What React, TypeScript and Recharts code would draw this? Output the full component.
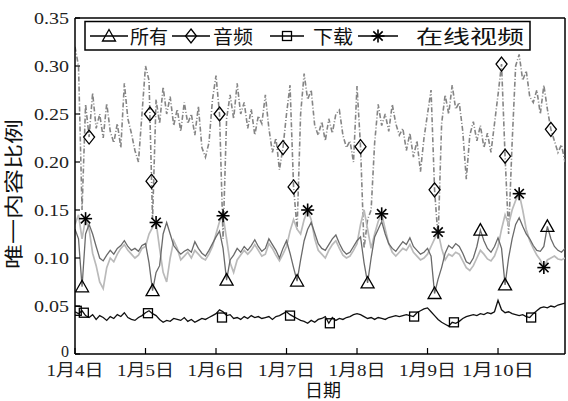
import React from "react";
import { ComposedChart, Line, Scatter, XAxis, YAxis, ReferenceLine } from "recharts";

const dayLabels = ["1月4日", "1月5日", "1月6日", "1月7日", "1月8日", "1月9日", "1月10日"];
const samplesPerDay = 20;
const yTicks = [0, 0.05, 0.1, 0.15, 0.2, 0.25, 0.3, 0.35];

// 所有
const allShare = [
  0.130, 0.120, 0.070, 0.125, 0.135, 0.125, 0.112, 0.100, 0.097, 0.103,
  0.108, 0.104, 0.110, 0.113, 0.118, 0.112, 0.108, 0.110, 0.107, 0.113,
  0.115, 0.095, 0.066, 0.085, 0.092, 0.125, 0.137, 0.125, 0.113, 0.108,
  0.104, 0.107, 0.109, 0.106, 0.117, 0.110, 0.105, 0.102, 0.108, 0.115,
  0.122, 0.128, 0.110, 0.077, 0.098, 0.103, 0.110, 0.106, 0.112, 0.108,
  0.113, 0.119, 0.112, 0.107, 0.110, 0.120, 0.114, 0.108, 0.100, 0.110,
  0.118, 0.105, 0.090, 0.076, 0.098, 0.118, 0.130, 0.137, 0.126, 0.115,
  0.110, 0.108, 0.114, 0.120, 0.124, 0.115, 0.108, 0.104, 0.106, 0.112,
  0.118, 0.122, 0.095, 0.074, 0.100, 0.122, 0.130, 0.138, 0.125, 0.115,
  0.110, 0.107, 0.112, 0.117, 0.114, 0.121, 0.112, 0.108, 0.104, 0.106,
  0.110, 0.102, 0.063, 0.078, 0.090, 0.105, 0.113, 0.110, 0.115, 0.112,
  0.105, 0.096, 0.094, 0.100, 0.112, 0.129, 0.118, 0.110, 0.106, 0.112,
  0.121, 0.110, 0.072, 0.100, 0.120, 0.135, 0.142, 0.133, 0.125, 0.120,
  0.113, 0.108, 0.107, 0.112, 0.133, 0.120, 0.112, 0.108, 0.106, 0.110,
];

// 音频
const audioShare = [
  0.320, 0.300, 0.150, 0.260, 0.226, 0.272, 0.235, 0.250, 0.225, 0.261,
  0.232, 0.220, 0.240, 0.215, 0.282, 0.245, 0.230, 0.212, 0.200, 0.250,
  0.300, 0.285, 0.140, 0.265, 0.240, 0.278, 0.250, 0.268, 0.238, 0.255,
  0.232, 0.262, 0.240, 0.250, 0.228, 0.258, 0.215, 0.205, 0.220, 0.265,
  0.290, 0.250, 0.120, 0.245, 0.270, 0.245, 0.282, 0.250, 0.262, 0.235,
  0.255, 0.228, 0.248, 0.240, 0.270, 0.235, 0.210, 0.225, 0.192, 0.215,
  0.250, 0.280, 0.174, 0.130, 0.250, 0.292, 0.265, 0.275, 0.238, 0.228,
  0.242, 0.222, 0.245, 0.230, 0.250, 0.254, 0.228, 0.215, 0.222, 0.200,
  0.279, 0.216, 0.110, 0.140, 0.150, 0.220, 0.260, 0.238, 0.250, 0.232,
  0.260, 0.240, 0.228, 0.235, 0.212, 0.230, 0.205, 0.222, 0.190, 0.225,
  0.250, 0.275, 0.171, 0.120, 0.240, 0.270, 0.250, 0.280, 0.255, 0.262,
  0.232, 0.182, 0.228, 0.242, 0.222, 0.238, 0.215, 0.230, 0.210, 0.240,
  0.270, 0.302, 0.206, 0.125, 0.220, 0.300, 0.312, 0.285, 0.295, 0.268,
  0.262, 0.275, 0.250, 0.280, 0.255, 0.234, 0.222, 0.210, 0.218, 0.200,
];

// 下载
const downloadShare = [
  0.044, 0.042, 0.045, 0.040, 0.038, 0.041, 0.036, 0.040, 0.038, 0.035,
  0.039, 0.037, 0.041, 0.039, 0.043, 0.038, 0.036, 0.035, 0.038, 0.040,
  0.043, 0.045, 0.042, 0.040, 0.036, 0.033, 0.035, 0.034, 0.037, 0.036,
  0.035, 0.038, 0.034, 0.036, 0.033, 0.035, 0.037, 0.036, 0.038, 0.040,
  0.042, 0.046, 0.044, 0.040, 0.041, 0.037, 0.038, 0.036, 0.039, 0.037,
  0.040, 0.038, 0.039, 0.037, 0.038, 0.039, 0.036, 0.039, 0.040, 0.042,
  0.044, 0.041, 0.039, 0.037, 0.035, 0.034, 0.032, 0.035, 0.033, 0.036,
  0.037, 0.039, 0.032, 0.038, 0.035, 0.037, 0.036, 0.038, 0.039, 0.041,
  0.042, 0.041, 0.039, 0.037, 0.038, 0.036, 0.038, 0.037, 0.036, 0.038,
  0.039, 0.040, 0.039, 0.040, 0.041, 0.040, 0.039, 0.043, 0.045, 0.047,
  0.048, 0.044, 0.040, 0.036, 0.033, 0.031, 0.029, 0.033, 0.032, 0.034,
  0.037, 0.039, 0.040, 0.041, 0.040, 0.042, 0.041, 0.043, 0.042, 0.044,
  0.056, 0.046, 0.043, 0.044, 0.042, 0.041, 0.040, 0.041, 0.039, 0.038,
  0.042, 0.045, 0.048, 0.049, 0.048, 0.050, 0.049, 0.051, 0.052, 0.053,
];

// 在线视频
const videoShare = [
  0.135, 0.145, 0.120, 0.141, 0.130, 0.105, 0.092, 0.075, 0.068, 0.090,
  0.100, 0.096, 0.104, 0.110, 0.114, 0.108, 0.104, 0.100, 0.103, 0.110,
  0.112, 0.125, 0.132, 0.137, 0.110, 0.085, 0.075, 0.100, 0.118, 0.110,
  0.098, 0.102, 0.106, 0.100, 0.108, 0.104, 0.100, 0.098, 0.104, 0.112,
  0.125, 0.138, 0.144, 0.120, 0.095, 0.085, 0.098, 0.103, 0.108, 0.104,
  0.108, 0.114, 0.108, 0.102, 0.104, 0.115, 0.110, 0.103, 0.097, 0.104,
  0.112, 0.128, 0.140, 0.130, 0.125, 0.140, 0.150, 0.140, 0.120, 0.108,
  0.104, 0.100, 0.108, 0.114, 0.118, 0.110, 0.103, 0.100, 0.102, 0.108,
  0.115, 0.135, 0.150, 0.130, 0.110, 0.125, 0.138, 0.146, 0.130, 0.115,
  0.106, 0.102, 0.106, 0.110, 0.108, 0.114, 0.106, 0.102, 0.098, 0.100,
  0.104, 0.112, 0.120, 0.127, 0.110, 0.098, 0.104, 0.102, 0.106, 0.104,
  0.097, 0.090, 0.087, 0.092, 0.100, 0.108, 0.104, 0.099, 0.097, 0.102,
  0.112, 0.130, 0.145, 0.135, 0.150, 0.160, 0.167, 0.150, 0.130, 0.118,
  0.110, 0.103, 0.098, 0.090, 0.098, 0.100, 0.102, 0.099, 0.098, 0.100,
];

// marker positions [sample index, value]
const allMarks = [[2, 0.070], [22, 0.066], [43, 0.077], [63, 0.076], [83, 0.074], [102, 0.063], [115, 0.129], [122, 0.072], [134, 0.133]];
const audioMarks = [[4, 0.226], [21.25, 0.25], [21.7, 0.18], [41, 0.25], [59, 0.215], [62, 0.174], [81, 0.216], [102, 0.171], [121, 0.302], [122, 0.206], [135, 0.234]];
const downloadMarks = [[0.5, 0.045], [2.5, 0.043], [20.7, 0.0425], [41.7, 0.038], [61, 0.040], [72.3, 0.032], [96.2, 0.039], [107.5, 0.033], [129.4, 0.038]];
const videoMarks = [[3, 0.141], [23, 0.137], [42, 0.144], [66, 0.150], [87, 0.146], [103, 0.127], [126, 0.167], [133, 0.090]];

const rows = allShare.map((v, k) => ({
  i: k,
  all: v,
  audio: audioShare[k],
  dl: downloadShare[k],
  video: videoShare[k],
}));
const toPts = (arr: number[][]) => arr.map(([i, v]) => ({ i, v }));

const SERIF = "'Liberation Serif', 'Noto Sans CJK SC', serif";
const CJK = "'Noto Sans CJK SC', 'Liberation Serif', sans-serif";
const MK = "#000";

const triPath = (cx: number, cy: number) => (
  <polygon points={`${cx},${cy - 6.5} ${cx - 6.5},${cy + 5} ${cx + 6.5},${cy + 5}`} fill="none" stroke={MK} strokeWidth={1.3} />
);
const diaPath = (cx: number, cy: number) => (
  <polygon points={`${cx},${cy - 7} ${cx + 5.5},${cy} ${cx},${cy + 7} ${cx - 5.5},${cy}`} fill="none" stroke={MK} strokeWidth={1.3} />
);
const sqPath = (cx: number, cy: number) => (
  <rect x={cx - 4.5} y={cy - 4.5} width={9} height={9} fill="none" stroke={MK} strokeWidth={1.3} />
);
const starPath = (cx: number, cy: number) => {
  const r = 6.5;
  const d = r * 0.72;
  return (
    <g stroke={MK} strokeWidth={1.6}>
      <line x1={cx - r} y1={cy} x2={cx + r} y2={cy} />
      <line x1={cx} y1={cy - r} x2={cx} y2={cy + r} />
      <line x1={cx - d} y1={cy - d} x2={cx + d} y2={cy + d} />
      <line x1={cx - d} y1={cy + d} x2={cx + d} y2={cy - d} />
    </g>
  );
};

const TriShape = (p: any) => triPath(p.cx, p.cy);
const DiaShape = (p: any) => diaPath(p.cx, p.cy);
const SqShape = (p: any) => sqPath(p.cx, p.cy);
const StarShape = (p: any) => starPath(p.cx, p.cy);

const XTick = (p: any) => {
  const idx = Math.round(p.payload.value / samplesPerDay);
  const label = dayLabels[idx];
  return (
    <text x={p.x} y={p.y + 18} textAnchor="middle" fontFamily={SERIF} fontSize={17} fill="#222"
      textLength={label.length > 4 ? 72 : 57} lengthAdjust="spacingAndGlyphs">
      {label}
    </text>
  );
};

const YTick = (p: any) => {
  const v = p.payload.value;
  const label = v === 0 ? "0" : v.toFixed(2);
  return (
    <text x={p.x} y={p.y + (v === 0 ? 3 : 6)} textAnchor="end" fontFamily={SERIF} fontSize={v === 0 ? 16 : 17} fill="#222"
      {...(v === 0 ? {} : { textLength: 35, lengthAdjust: "spacingAndGlyphs" })}>
      {label}
    </text>
  );
};

const legendItems = [
  { name: "所有", shape: triPath, x1: 90, x2: 128, tx: 130, tl: 38 },
  { name: "音频", shape: diaPath, x1: 172, x2: 210, tx: 213, tl: 40 },
  { name: "下载", shape: sqPath, x1: 270, x2: 304, tx: 313, tl: 40 },
  { name: "在线视频", shape: starPath, x1: 358, x2: 398, tx: 416, tl: 108 },
];

export default function App() {
  return (
    <div style={{ position: "absolute", left: 0, top: 0, width: 568, height: 401, background: "#fff" }}>
      <ComposedChart width={568} height={401} data={rows} margin={{ top: 18, right: 3, bottom: 17, left: 0 }}>
        <XAxis type="number" dataKey="i" domain={[0, 139]} allowDataOverflow
          ticks={dayLabels.map((_, k) => k * samplesPerDay)} interval={0}
          tick={<XTick />} tickSize={-6} tickMargin={10} height={30}
          axisLine={{ stroke: "#000", strokeWidth: 1.5 }} tickLine={{ stroke: "#000", strokeWidth: 1.2 }} />
        <YAxis type="number" domain={[0, 0.35]} allowDataOverflow ticks={yTicks} interval={0}
          tick={<YTick />} tickSize={-5} tickMargin={11} width={75}
          axisLine={{ stroke: "#000", strokeWidth: 1.5 }} tickLine={{ stroke: "#000", strokeWidth: 1.2 }} />
        <ReferenceLine y={0.35} stroke="#000" strokeWidth={1.5} />
        <ReferenceLine x={139} stroke="#000" strokeWidth={1.5} />
        <Line dataKey="audio" stroke="#858585" strokeWidth={1.6} strokeDasharray="5 2 1 2" dot={false} isAnimationActive={false} />
        <Line dataKey="video" stroke="#bababa" strokeWidth={1.7} dot={false} isAnimationActive={false} />
        <Line dataKey="all" stroke="#6a6a6a" strokeWidth={1.3} dot={false} isAnimationActive={false} />
        <Line dataKey="dl" stroke="#111" strokeWidth={1.3} dot={false} isAnimationActive={false} />
        <Scatter data={toPts(allMarks)} dataKey="v" shape={TriShape} isAnimationActive={false} />
        <Scatter data={toPts(audioMarks)} dataKey="v" shape={DiaShape} isAnimationActive={false} />
        <Scatter data={toPts(downloadMarks)} dataKey="v" shape={SqShape} isAnimationActive={false} />
        <Scatter data={toPts(videoMarks)} dataKey="v" shape={StarShape} isAnimationActive={false} />
      </ComposedChart>
      <svg width={568} height={401} style={{ position: "absolute", left: 0, top: 0, pointerEvents: "none" }}>
        <rect x={85} y={21.5} width={445} height={28.5} fill="#fff" stroke="#000" strokeWidth={1.5} />
        {legendItems.map((it) => (
          <g key={it.name}>
            <line x1={it.x1} y1={36} x2={it.x2} y2={36} stroke="#000" strokeWidth={1.4} />
            {it.shape((it.x1 + it.x2) / 2, 36)}
            <text x={it.tx} y={44} fontFamily={CJK} fontSize={19} fill="#111"
              textLength={it.tl} lengthAdjust="spacingAndGlyphs">{it.name}</text>
          </g>
        ))}
        <text x={323} y={397} textAnchor="middle" fontFamily={CJK} fontSize={18} fill="#111">日期</text>
        <text transform="translate(21,194) rotate(-90)" textAnchor="middle" fontFamily={CJK} fontSize={19} fill="#111"
          textLength={150} lengthAdjust="spacingAndGlyphs">唯一内容比例</text>
      </svg>
    </div>
  );
}
